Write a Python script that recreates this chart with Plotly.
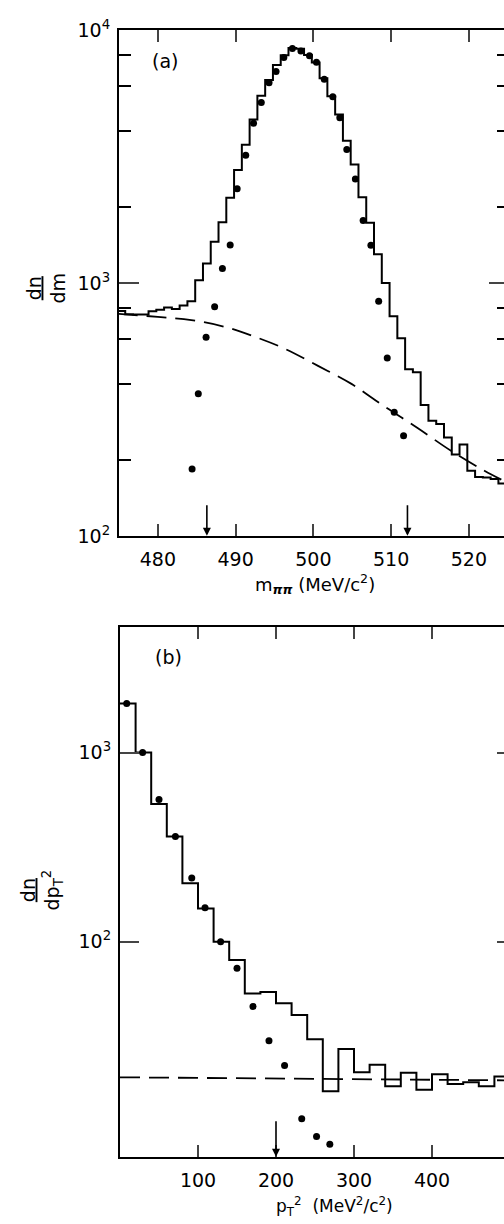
import plotly.graph_objects as go

# ---------------- panel (a): m_pipi spectrum ----------------
mass_bin_start = 474.8
mass_bin_width = 1.0
mass_hist = [775, 752, 750, 750, 773, 784, 800, 790, 815, 847,
             1025, 1195, 1455, 1740, 2173, 2800, 3520, 4436, 5500, 6350,
             7280, 7950, 8500, 8450, 7980, 7450, 6450, 5480, 4640, 3650,
             2940, 2185, 1730, 1300, 1000, 738, 604, 456, 444, 329,
             285, 277, 245, 210, 230, 181, 171, 170, 168, 161, 160]
mass_dot_x = [484.4, 485.2, 486.2, 487.3, 488.3, 489.3, 490.2, 491.3, 492.3, 493.3,
              494.3, 495.2, 496.2, 497.3, 498.4, 499.5, 500.4, 501.4, 502.5, 503.4,
              504.3, 505.4, 506.4, 507.4, 508.4, 509.5, 510.4, 511.6]
mass_dot_y = [184, 365, 610, 805, 1140, 1415, 2360, 3200, 4285, 5175,
              6195, 6870, 7790, 8470, 8265, 7925, 7460, 6400, 5450, 4500,
              3370, 2580, 1765, 1410, 846, 505, 308, 249]
mass_bg_x = [474.8, 480.0, 484.3, 488.6, 492.4, 496.3, 500.6, 504.9, 509.2, 513.4, 517.7, 522.0, 525.0]
mass_bg_y = [756, 734, 713, 671, 614, 550, 470, 399, 324, 267, 217, 181, 162]
mass_cuts = [486.3, 512.1]
mass_ticks = [480, 490, 500, 510, 520]

# ---------------- panel (b): pT^2 spectrum ----------------
pt_bin_start = 0
pt_bin_width = 20
pt_hist = [1815, 1000, 535, 360, 204, 150, 100, 80, 53.3, 54.2,
           47.3, 41, 30.5, 16.2, 27.1, 20.4, 22.4, 17.2, 20.3, 16.5,
           19.9, 17.7, 18.1, 17.2, 19.4]
pt_dot_x = [8.6, 29, 50, 71, 92, 109, 129, 150, 170.5, 191, 211, 233, 252, 269]
pt_dot_y = [1815, 1000, 564, 360, 217, 151, 100, 72.4, 45.5, 30, 22.2, 11.6, 9.35, 8.5]
pt_bg_x = [0, 500]
pt_bg_y = [19.2, 18.5]
pt_cuts = [200]
pt_ticks = [100, 200, 300, 400]

decade_vals = [100, 1000, 10000]
decade_text = ["10<sup>2</sup>", "10<sup>3</sup>", "10<sup>4</sup>"]
minor_a = [200, 400, 600, 800, 2000, 4000, 6000, 8000]

W, H = 504, 1224
FONT = "DejaVu Sans"


def hist_xy(start, width, vals):
    xs = [start + i * width for i in range(len(vals) + 1)]
    ys = list(vals) + [vals[-1]]
    return xs, ys


fig = go.Figure()

hx, hy = hist_xy(mass_bin_start, mass_bin_width, mass_hist)
fig.add_trace(go.Scatter(x=hx, y=hy, mode="lines", line=dict(color="black", width=2, shape="hv"),
                         xaxis="x", yaxis="y", showlegend=False))
fig.add_trace(go.Scatter(x=mass_bg_x, y=mass_bg_y, mode="lines",
                         line=dict(color="black", width=1.8, dash="20px,9px", shape="spline"),
                         xaxis="x", yaxis="y", showlegend=False))
fig.add_trace(go.Scatter(x=mass_dot_x, y=mass_dot_y, mode="markers",
                         marker=dict(color="black", size=7),
                         xaxis="x", yaxis="y", showlegend=False, cliponaxis=False))

px_, py_ = hist_xy(pt_bin_start, pt_bin_width, pt_hist)
fig.add_trace(go.Scatter(x=px_, y=py_, mode="lines", line=dict(color="black", width=2, shape="hv"),
                         xaxis="x2", yaxis="y2", showlegend=False))
fig.add_trace(go.Scatter(x=pt_bg_x, y=pt_bg_y, mode="lines",
                         line=dict(color="black", width=1.8, dash="20px,9px"),
                         xaxis="x2", yaxis="y2", showlegend=False))
fig.add_trace(go.Scatter(x=pt_dot_x, y=pt_dot_y, mode="markers",
                         marker=dict(color="black", size=7),
                         xaxis="x2", yaxis="y2", showlegend=False, cliponaxis=False))

# dummy traces so the right-hand tick axes are drawn
fig.add_trace(go.Scatter(x=[None], y=[None], xaxis="x", yaxis="y3", showlegend=False))
fig.add_trace(go.Scatter(x=[None], y=[None], xaxis="x2", yaxis="y4", showlegend=False))

tickfont = dict(family=FONT, size=19, color="black")

ya_dom = [1 - 533.3 / H, 1 - 17.5 / H]
yb_dom = [1 - 1166.7 / H, 1 - 626 / H]
yb_range = [0.863, 3.665]

fig.update_layout(
    width=W, height=H,
    margin=dict(l=0, r=0, t=0, b=0),
    paper_bgcolor="white", plot_bgcolor="white",
    font=dict(family=FONT, color="black"),
    xaxis=dict(domain=[119 / W, 1], range=[475, 475 + 385 / 7.775], anchor="y",
               tickmode="array", tickvals=mass_ticks, ticks="inside", ticklen=12, tickwidth=2,
               showline=True, linewidth=2, linecolor="black", mirror="ticks",
               showgrid=False, zeroline=False, tickfont=tickfont, ticklabelstandoff=5),
    yaxis=dict(domain=ya_dom, type="log", range=[2, 4], anchor="x",
               tickmode="array", tickvals=decade_vals, ticktext=decade_text,
               ticks="inside", ticklen=20, tickwidth=2,
               minor=dict(tickmode="array", tickvals=minor_a, ticks="inside", ticklen=12,
                          tickwidth=2, tickcolor="black", showgrid=False),
               showline=True, linewidth=2, linecolor="black", mirror=False,
               showgrid=False, zeroline=False, tickfont=tickfont, ticklabelstandoff=3),
    yaxis3=dict(overlaying="y", side="right", anchor="x", type="log", range=[2, 4],
                tickmode="array", tickvals=decade_vals, ticks="inside", ticklen=15, tickwidth=2,
                minor=dict(tickmode="array", tickvals=minor_a, ticks="inside", ticklen=7,
                           tickwidth=2, tickcolor="black", showgrid=False),
                showticklabels=False, showline=False, showgrid=False, zeroline=False),
    xaxis2=dict(domain=[120 / W, 1], range=[0, 384 / 0.78], anchor="y2",
                tickmode="array", tickvals=pt_ticks, ticks="inside", ticklen=12, tickwidth=2,
                showline=True, linewidth=2, linecolor="black", mirror="ticks",
                showgrid=False, zeroline=False, tickfont=tickfont, ticklabelstandoff=5),
    yaxis2=dict(domain=yb_dom, type="log", range=yb_range, anchor="x2",
                tickmode="array", tickvals=decade_vals[:2], ticktext=decade_text[:2],
                ticks="inside", ticklen=19, tickwidth=2,
                showline=True, linewidth=2, linecolor="black", mirror=False,
                showgrid=False, zeroline=False, tickfont=tickfont, ticklabelstandoff=3),
    yaxis4=dict(overlaying="y2", side="right", anchor="x2", type="log", range=yb_range,
                tickmode="array", tickvals=decade_vals[:2], ticks="inside", ticklen=7, tickwidth=2,
                showticklabels=False, showline=False, showgrid=False, zeroline=False),
)

ann = []
for c in mass_cuts:
    ann.append(dict(x=c, y=2, xref="x", yref="y", text="", showarrow=True,
                    ax=0, ay=-32, arrowhead=2, arrowsize=1, arrowwidth=1.6, arrowcolor="black"))
for c in pt_cuts:
    ann.append(dict(x=c, y=yb_range[0], xref="x2", yref="y2", text="", showarrow=True,
                    ax=0, ay=-37, arrowhead=2, arrowsize=1, arrowwidth=1.6, arrowcolor="black"))

lab = dict(family=FONT, size=19, color="black")
ann += [
    dict(x=165 / W, y=1 - 49 / H, xref="paper", yref="paper", text="(a)", showarrow=False,
         font=lab, xanchor="center", yanchor="middle"),
    dict(x=168 / W, y=1 - 657 / H, xref="paper", yref="paper", text="(b)", showarrow=False,
         font=lab, xanchor="center", yanchor="middle"),
    dict(x=315 / W, y=1 - 582 / H, xref="paper", yref="paper",
         text="m<sub><b><i>ππ</i></b></sub> (MeV/c<sup>2</sup>)", showarrow=False,
         font=dict(family=FONT, size=18, color="black"), xanchor="center", yanchor="middle"),
    dict(x=334 / W, y=1 - 1203 / H, xref="paper", yref="paper",
         text="p<sub>T</sub><sup>2</sup>  (MeV<sup>2</sup>/c<sup>2</sup>)", showarrow=False,
         font=dict(family=FONT, size=17, color="black"), xanchor="center", yanchor="top"),
    dict(x=46 / W, y=1 - 281 / H, xref="paper", yref="paper",
         text="<u>dn</u><br>dm", showarrow=False, textangle=-90,
         font=dict(family=FONT, size=19, color="black"), xanchor="center", yanchor="middle"),
    dict(x=42 / W, y=1 - 895 / H, xref="paper", yref="paper",
         text="<u>dn</u><br>dp<sub>T</sub><sup>2</sup>", showarrow=False, textangle=-90,
         font=dict(family=FONT, size=19, color="black"), xanchor="center", yanchor="middle"),
]
fig.update_layout(annotations=ann)

fig.write_html("out.html")
